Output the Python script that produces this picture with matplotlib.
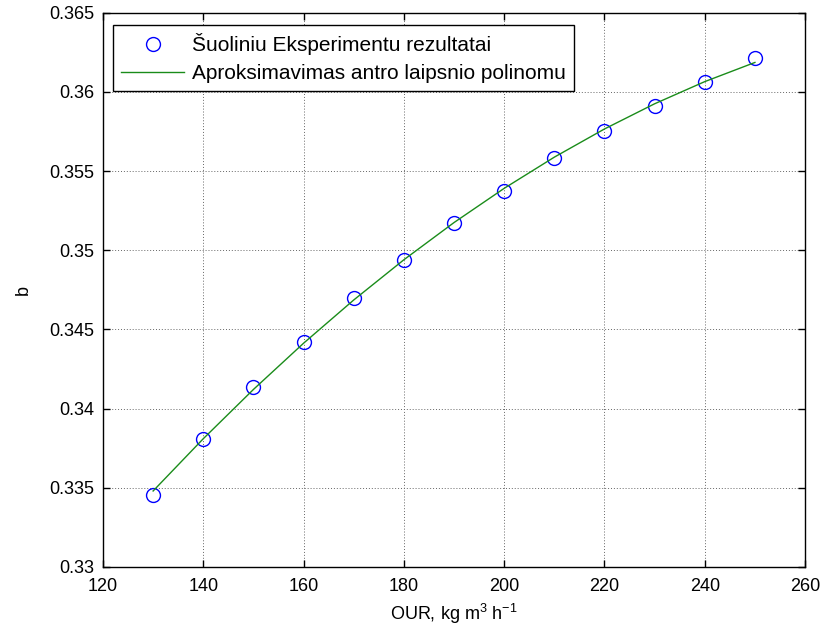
import matplotlib
matplotlib.use("Agg")
import matplotlib.pyplot as plt

plt.rcParams['font.family'] = ['Liberation Sans', 'DejaVu Sans']
plt.rcParams['mathtext.fontset'] = 'custom'
plt.rcParams['mathtext.rm'] = 'Liberation Sans'
plt.rcParams['mathtext.default'] = 'regular'

# Data
our = [130, 140, 150, 160, 170, 180, 190, 200, 210, 220, 230, 240, 250]
b_exp = [0.33454, 0.33811, 0.34137, 0.34421, 0.34698, 0.34936, 0.35171,
         0.35373, 0.35581, 0.35751, 0.35908, 0.36062, 0.36217]
b_fit = [0.33480, 0.33810, 0.34121, 0.34413, 0.34686, 0.34940, 0.35175,
         0.35391, 0.35588, 0.35766, 0.35925, 0.36065, 0.36186]
xticks = [120, 140, 160, 180, 200, 220, 240, 260]
yticks = [0.33, 0.335, 0.34, 0.345, 0.35, 0.355, 0.36, 0.365]
ytick_labels = ['0.33', '0.335', '0.34', '0.345', '0.35', '0.355', '0.36', '0.365']
legend_labels = ['Šuoliniu Eksperimentu rezultatai',
                 'Aproksimavimas antro laipsnio polinomu']

fig = plt.figure(figsize=(8.27, 6.36), dpi=100)
ax = fig.add_axes([0.1245, 0.1085, 0.849, 0.8715])

ax.plot(our, b_exp, linestyle='none', marker='o', markersize=10,
        markerfacecolor='none', markeredgecolor='#0000ff', markeredgewidth=1.0,
        label=legend_labels[0])
ax.plot(our, b_fit, color='#1a8c1a', linewidth=1.0, label=legend_labels[1])

ax.set_xlim(120, 260)
ax.set_ylim(0.33, 0.365)
ax.set_xticks(xticks)
ax.set_xticklabels([str(v) for v in xticks])
ax.set_yticks(yticks)
ax.set_yticklabels(ytick_labels)

ax.grid(True, color='#666666', linestyle=(0, (1, 2)), linewidth=0.7)
ax.tick_params(direction='in', top=True, right=True, labelsize=13, length=5, width=1, pad=6)
ax.tick_params(axis='x', pad=8)
for s in ax.spines.values():
    s.set_linewidth(1.0)

ax.set_xlabel('OUR, kg m$^{3}$ h$^{-1}$', fontsize=13, labelpad=5)
ax.set_ylabel('b', fontsize=13, labelpad=13)

leg = ax.legend(loc='upper left', bbox_to_anchor=(0.0142, 0.978), fontsize=15,
                frameon=True, fancybox=False, edgecolor='black', framealpha=1,
                borderpad=0.4, handlelength=3.0, handletextpad=0.4,
                labelspacing=0.42, borderaxespad=0)
leg.get_frame().set_linewidth(1.0)

fig.savefig('out.png', dpi=100)
